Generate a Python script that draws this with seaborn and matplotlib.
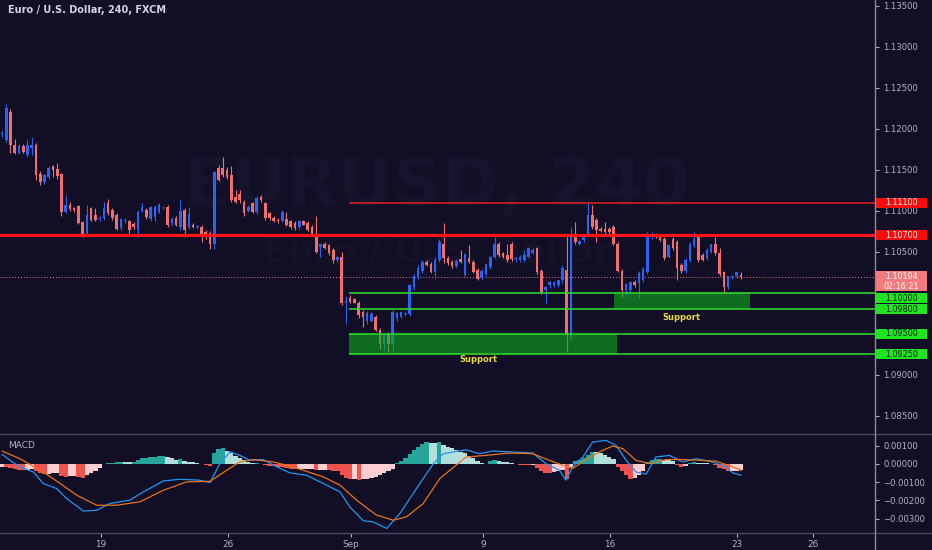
import matplotlib
matplotlib.use("Agg")
import matplotlib.pyplot as plt
import matplotlib.transforms as mtransforms
from matplotlib.lines import Line2D
from matplotlib.patches import Rectangle
from matplotlib.ticker import FuncFormatter
import numpy as np
import seaborn as sns

# ---------------------------------------------------------------------------
# EUR/USD 4h candles (bar 0 = first visible bar, mid-August 2019)
# ---------------------------------------------------------------------------
opens = [
    1.1193, 1.1186, 1.1220, 1.1180, 1.1171, 1.1179, 1.1168, 1.1176, 1.1180, 1.1145,
    1.1135, 1.1141, 1.1154, 1.1151, 1.1145, 1.1099, 1.1107, 1.1103, 1.1106, 1.1086,
    1.1073, 1.1103, 1.1095, 1.1090, 1.1091, 1.1109, 1.1101, 1.1095, 1.1079, 1.1087,
    1.1088, 1.1084, 1.1076, 1.1100, 1.1101, 1.1090, 1.1092, 1.1099, 1.1104, 1.1105,
    1.1085, 1.1091, 1.1080, 1.1101, 1.1080, 1.1083, 1.1080, 1.1080, 1.1074, 1.1073,
    1.1060, 1.1152, 1.1152, 1.1150, 1.1144, 1.1117, 1.1121, 1.1111, 1.1100, 1.1109,
    1.1098, 1.1117, 1.1109, 1.1097, 1.1091, 1.1089, 1.1088, 1.1090, 1.1087, 1.1085,
    1.1080, 1.1087, 1.1085, 1.1080, 1.1072, 1.1056, 1.1060, 1.1058, 1.1052, 1.1040,
    1.1043, 1.0987, 1.0993, 1.0992, 1.0988, 1.0977, 1.0966, 1.0966, 1.0971, 1.0955,
    1.0937, 1.0950, 1.0938, 1.0969, 1.0971, 1.0974, 1.0974, 1.1007, 1.1019, 1.1026,
    1.1038, 1.1035, 1.1025, 1.1040, 1.1060, 1.1042, 1.1038, 1.1032, 1.1041, 1.1022,
    1.1042, 1.1037, 1.1028, 1.1018, 1.1023, 1.1031, 1.1044, 1.1060, 1.1048, 1.1046,
    1.1060, 1.1041, 1.1040, 1.1040, 1.1044, 1.1049, 1.1054, 1.1027, 1.1003, 1.1009,
    1.1009, 1.1009, 1.1015, 1.1028, 1.0946, 1.1068, 1.1060, 1.1064, 1.1072, 1.1095,
    1.1089, 1.1078, 1.1078, 1.1078, 1.1080, 1.1060, 1.1027, 1.1003, 1.1003, 1.1013,
    1.1012, 1.1015, 1.1025, 1.1068, 1.1071, 1.1070, 1.1066, 1.1044, 1.1066, 1.1062,
    1.1034, 1.1026, 1.1040, 1.1058, 1.1068, 1.1046, 1.1042, 1.1050, 1.1060, 1.1049,
    1.1025, 1.1007, 1.1019, 1.1020, 1.1022,
]
highs = [
    1.1198, 1.1230, 1.1224, 1.1187, 1.1181, 1.1181, 1.1186, 1.1190, 1.1182, 1.1148,
    1.1145, 1.1155, 1.1156, 1.1158, 1.1146, 1.1119, 1.1111, 1.1105, 1.1107, 1.1088,
    1.1107, 1.1105, 1.1103, 1.1093, 1.1111, 1.1114, 1.1103, 1.1097, 1.1091, 1.1091,
    1.1089, 1.1086, 1.1101, 1.1109, 1.1103, 1.1106, 1.1107, 1.1110, 1.1106, 1.1107,
    1.1092, 1.1093, 1.1113, 1.1103, 1.1104, 1.1085, 1.1082, 1.1082, 1.1076, 1.1075,
    1.1149, 1.1156, 1.1166, 1.1153, 1.1154, 1.1125, 1.1125, 1.1113, 1.1107, 1.1111,
    1.1118, 1.1119, 1.1111, 1.1099, 1.1093, 1.1091, 1.1101, 1.1098, 1.1089, 1.1087,
    1.1089, 1.1089, 1.1087, 1.1082, 1.1094, 1.1060, 1.1062, 1.1060, 1.1054, 1.1045,
    1.1050, 1.0996, 1.0997, 1.0994, 1.0990, 1.0979, 1.0978, 1.0977, 1.0973, 1.0957,
    1.0951, 1.0952, 1.0979, 1.0976, 1.0978, 1.0977, 1.1011, 1.1023, 1.1034, 1.1040,
    1.1040, 1.1037, 1.1044, 1.1066, 1.1085, 1.1045, 1.1040, 1.1041, 1.1052, 1.1049,
    1.1058, 1.1040, 1.1030, 1.1029, 1.1036, 1.1045, 1.1068, 1.1062, 1.1050, 1.1060,
    1.1062, 1.1044, 1.1046, 1.1052, 1.1056, 1.1054, 1.1056, 1.1029, 1.1008, 1.1014,
    1.1014, 1.1016, 1.1034, 1.1070, 1.1080, 1.1086, 1.1064, 1.1069, 1.1109, 1.1107,
    1.1091, 1.1080, 1.1086, 1.1080, 1.1082, 1.1062, 1.1029, 1.1012, 1.1014, 1.1015,
    1.1026, 1.1031, 1.1074, 1.1074, 1.1073, 1.1072, 1.1068, 1.1060, 1.1068, 1.1064,
    1.1036, 1.1042, 1.1062, 1.1074, 1.1070, 1.1048, 1.1055, 1.1060, 1.1068, 1.1054,
    1.1027, 1.1021, 1.1022, 1.1026, 1.1025,
]
lows = [
    1.1190, 1.1184, 1.1170, 1.1169, 1.1169, 1.1170, 1.1166, 1.1168, 1.1137, 1.1131,
    1.1132, 1.1139, 1.1141, 1.1139, 1.1093, 1.1097, 1.1100, 1.1098, 1.1084, 1.1068,
    1.1071, 1.1087, 1.1088, 1.1088, 1.1089, 1.1095, 1.1089, 1.1076, 1.1077, 1.1085,
    1.1070, 1.1078, 1.1068, 1.1098, 1.1090, 1.1088, 1.1088, 1.1097, 1.1102, 1.1080,
    1.1083, 1.1081, 1.1076, 1.1068, 1.1078, 1.1079, 1.1078, 1.1062, 1.1066, 1.1053,
    1.1053, 1.1136, 1.1141, 1.1139, 1.1111, 1.1109, 1.1109, 1.1094, 1.1098, 1.1097,
    1.1096, 1.1111, 1.1089, 1.1089, 1.1086, 1.1085, 1.1086, 1.1081, 1.1078, 1.1077,
    1.1078, 1.1082, 1.1075, 1.1070, 1.1048, 1.1044, 1.1053, 1.1046, 1.1036, 1.1037,
    1.0985, 1.0962, 1.0987, 1.0987, 1.0969, 1.0958, 1.0962, 1.0964, 1.0953, 1.0931,
    1.0930, 1.0928, 1.0928, 1.0966, 1.0969, 1.0972, 1.0972, 1.1003, 1.1017, 1.1024,
    1.1033, 1.1024, 1.1017, 1.1038, 1.1036, 1.1034, 1.1030, 1.1030, 1.1036, 1.1020,
    1.1036, 1.1024, 1.1016, 1.1016, 1.1021, 1.1029, 1.1042, 1.1044, 1.1042, 1.1038,
    1.1039, 1.1037, 1.1038, 1.1038, 1.1042, 1.1047, 1.1023, 1.0999, 1.0987, 1.1006,
    1.1007, 1.1007, 1.1012, 1.0928, 1.0942, 1.1060, 1.1058, 1.1062, 1.1070, 1.1078,
    1.1062, 1.1074, 1.1072, 1.1072, 1.1058, 1.1025, 1.0995, 1.0995, 1.1000, 1.1007,
    1.0993, 1.1013, 1.1023, 1.1066, 1.1067, 1.1063, 1.1040, 1.1042, 1.1052, 1.1015,
    1.1024, 1.1024, 1.1038, 1.1056, 1.1038, 1.1039, 1.1040, 1.1048, 1.1046, 1.1021,
    1.0998, 1.1005, 1.1017, 1.1018, 1.1017,
]
closes = [
    1.1195, 1.1225, 1.1180, 1.1171, 1.1179, 1.1172, 1.1180, 1.1180, 1.1143, 1.1135,
    1.1143, 1.1152, 1.1150, 1.1142, 1.1099, 1.1107, 1.1102, 1.1101, 1.1085, 1.1072,
    1.1095, 1.1089, 1.1089, 1.1091, 1.1103, 1.1097, 1.1091, 1.1078, 1.1090, 1.1089,
    1.1076, 1.1080, 1.1099, 1.1105, 1.1092, 1.1104, 1.1105, 1.1107, 1.1104, 1.1083,
    1.1090, 1.1083, 1.1100, 1.1077, 1.1096, 1.1080, 1.1080, 1.1068, 1.1068, 1.1060,
    1.1147, 1.1138, 1.1144, 1.1141, 1.1113, 1.1111, 1.1113, 1.1097, 1.1105, 1.1099,
    1.1115, 1.1113, 1.1091, 1.1091, 1.1088, 1.1087, 1.1098, 1.1083, 1.1080, 1.1079,
    1.1087, 1.1083, 1.1077, 1.1072, 1.1050, 1.1060, 1.1055, 1.1048, 1.1040, 1.1043,
    1.0987, 1.0990, 1.0989, 1.0988, 1.0973, 1.0971, 1.0975, 1.0974, 1.0954, 1.0938,
    1.0949, 1.0938, 1.0977, 1.0975, 1.0977, 1.0975, 1.1009, 1.1021, 1.1030, 1.1038,
    1.1034, 1.1025, 1.1040, 1.1062, 1.1042, 1.1036, 1.1032, 1.1039, 1.1038, 1.1047,
    1.1037, 1.1025, 1.1017, 1.1027, 1.1035, 1.1044, 1.1060, 1.1046, 1.1044, 1.1040,
    1.1041, 1.1042, 1.1044, 1.1046, 1.1054, 1.1052, 1.1025, 1.1001, 1.1007, 1.1013,
    1.1013, 1.1015, 1.1030, 1.0948, 1.1068, 1.1062, 1.1063, 1.1068, 1.1095, 1.1080,
    1.1076, 1.1075, 1.1074, 1.1074, 1.1060, 1.1027, 1.1003, 1.1011, 1.1013, 1.1009,
    1.1024, 1.1029, 1.1070, 1.1071, 1.1068, 1.1064, 1.1042, 1.1058, 1.1054, 1.1030,
    1.1026, 1.1040, 1.1060, 1.1066, 1.1040, 1.1040, 1.1052, 1.1059, 1.1048, 1.1023,
    1.1007, 1.1020, 1.1021, 1.1025, 1.1019,
]

# MACD histogram, one value per bar
macd_hist = [
    -0.00016, -0.00018, -0.00022, -0.00027, -0.00031, -0.00035, -0.00033, -0.00030, -0.00040, -0.00048,
    -0.00055, -0.00053, -0.00050, -0.00048, -0.00068, -0.00072, -0.00068, -0.00066, -0.00072, -0.00076,
    -0.00060, -0.00048, -0.00036, -0.00022, 0.00002, 0.00005, 0.00006, 0.00008, 0.00010, 0.00009,
    0.00008, 0.00013, 0.00022, 0.00030, 0.00033, 0.00036, 0.00040, 0.00043, 0.00046, 0.00038,
    0.00032, 0.00020, 0.00025, 0.00015, 0.00012, 0.00008, 0.00004, 0.00001, -0.00004, -0.00010,
    0.00060, 0.00082, 0.00088, 0.00070, 0.00058, 0.00045, 0.00032, 0.00020, 0.00010, 0.00003,
    0.00005, 0.00002, -0.00005, -0.00010, -0.00013, -0.00016, -0.00018, -0.00022, -0.00026, -0.00030,
    -0.00028, -0.00027, -0.00026, -0.00025, -0.00033, -0.00032, -0.00031, -0.00034, -0.00036, -0.00040,
    -0.00060, -0.00075, -0.00082, -0.00080, -0.00086, -0.00084, -0.00082, -0.00078, -0.00070, -0.00062,
    -0.00052, -0.00040, -0.00025, 0.00005, 0.00018, 0.00035, 0.00055, 0.00075, 0.00092, 0.00108,
    0.00118, 0.00117, 0.00115, 0.00120, 0.00105, 0.00095, 0.00085, 0.00075, 0.00068, 0.00060,
    0.00045, 0.00030, 0.00015, 0.00003, 0.00001, 0.00015, 0.00020, 0.00018, 0.00012, 0.00008,
    0.00005, 0.00002, -0.00003, -0.00004, -0.00005, -0.00004, -0.00020, -0.00040, -0.00050, -0.00052,
    -0.00045, -0.00040, -0.00035, -0.00080, -0.00018, 0.00015, 0.00022, 0.00030, 0.00050, 0.00066,
    0.00064, 0.00060, 0.00050, 0.00040, 0.00025, -0.00015, -0.00040, -0.00060, -0.00080, -0.00075,
    -0.00060, -0.00040, 0.00010, 0.00020, 0.00025, 0.00028, 0.00022, 0.00020, 0.00015, -0.00003,
    -0.00015, -0.00010, 0.00004, 0.00008, 0.00005, 0.00004, 0.00003, 0.00002, -0.00005, -0.00020,
    -0.00030, -0.00040, -0.00038, -0.00036, -0.00035,
]

macd_bar = [0, 1.9, 4.2, 7.4, 9.7, 12.9, 15.2, 19.2, 22.3, 25.4, 30.1, 33.3, 38.0, 41.9, 46.6,
            49.0, 51.3, 53.7, 56.0, 58.4, 61.5, 64.7, 67.8, 71.7, 75.7, 79.6, 81.9, 85.1, 87.4,
            90.6, 93.7, 98.4, 101.6, 103.9, 109.3, 112.4, 115.6, 119.5, 125.0, 128.1, 131.3,
            132.8, 134.4, 136.8, 139.1, 142.3, 144.6, 147.0, 149.3, 151.7, 154.0, 157.2, 160.3,
            163.5, 167.4, 170.5, 172.1, 174.1]
macd_val = [0.00053, 0.00020, -0.00016, -0.00044, -0.00107, -0.00135, -0.00189, -0.00258,
            -0.00253, -0.00217, -0.00198, -0.00153, -0.00093, -0.00084, -0.00089, -0.00102,
            0.00002, 0.00066, 0.00047, 0.00020, 0.00024, -0.00016, -0.00049, -0.00062, -0.00107,
            -0.00153, -0.00235, -0.00311, -0.00317, -0.00353, -0.00271, -0.00107, 0.00002,
            0.00056, 0.00078, 0.00056, 0.00071, 0.00066, 0.00060, 0.00002, -0.00035, -0.00089,
            -0.00016, 0.00038, 0.00120, 0.00129, 0.00102, 0.00020, -0.00044, -0.00056, 0.00038,
            0.00047, 0.00011, 0.00029, 0.00011, -0.00016, -0.00049, -0.00062]
signal_bar = [0, 4.2, 9.7, 13.7, 17.6, 22.3, 27.0, 32.5, 38.0, 43.5, 49.0, 52.9, 56.0, 59.2,
              63.9, 67.0, 71.0, 75.7, 79.6, 83.5, 88.2, 92.2, 95.3, 99.2, 103.1, 109.3, 114.0,
              119.5, 125.0, 128.9, 132.1, 134.4, 137.6, 140.7, 143.8, 146.2, 149.3, 152.5,
              156.4, 160.3, 164.2, 168.2, 172.1, 174.1]
signal_val = [0.00071, 0.00029, -0.00044, -0.00107, -0.00171, -0.00226, -0.00226, -0.00207,
              -0.00144, -0.00098, -0.00095, -0.00035, 0.00011, 0.00024, 0.00011, -0.00007,
              -0.00035, -0.00071, -0.00116, -0.00198, -0.00280, -0.00308, -0.00289, -0.00217,
              -0.00080, 0.00038, 0.00047, 0.00060, 0.00056, 0.00020, -0.00007, -0.00025,
              0.00024, 0.00066, 0.00098, 0.00084, 0.00020, 0.00002, 0.00024, 0.00024, 0.00020,
              0.00015, -0.00016, -0.00035]

date_ticks = [23.3, 53.2, 82.2, 113.3, 143.2, 173.2, 191.1]
date_labels = ["19", "26", "Sep", "9", "16", "23", "26"]
# 1.10000 and 1.09500 sit under the green level tags, so they are not shown
price_ticks = [1.135, 1.130, 1.125, 1.120, 1.115, 1.110, 1.105, 1.090, 1.085]
macd_ticks = [0.001, 0.0, -0.001, -0.002, -0.003]

resistance_main = 1.1070
resistance_upper = 1.1110
support_lines = [1.1000, 1.0980, 1.0950, 1.0925]
support_zones = [(1.0925, 1.0950), (1.0980, 1.1000)]
last_price = 1.10194
countdown = "02:16:21"

# ---------------------------------------------------------------------------
# style
# ---------------------------------------------------------------------------
BG = "#110e26"
TXT = "#b2b5be"
UP = "#2c63f0"
DOWN = "#ef6e6e"
RED = "#ff1515"
GREEN = "#2fd12f"
TAG_GREEN = "#1ee61e"
LAST = "#f47a7c"
W, H = 932, 550
PLOT_W, MAIN_BOT, MACD_BOT = 875, 434, 533
XLIM = (-0.47, 205.6)
FS = 6.1

sns.set_theme(style="dark", rc={"axes.facecolor": BG, "figure.facecolor": BG})
plt.rcParams["font.family"] = ["DejaVu Sans"]

fig = plt.figure(figsize=(W / 100, H / 100), dpi=100)
ax = fig.add_axes([0, 1 - MAIN_BOT / H, PLOT_W / W, MAIN_BOT / H])
ax2 = fig.add_axes([0, 1 - MACD_BOT / H, PLOT_W / W, (MACD_BOT - MAIN_BOT) / H])
for a in (ax, ax2):
    a.set_facecolor(BG)
    a.set_xlim(*XLIM)
    for s in a.spines.values():
        s.set_visible(False)
    a.grid(False)

# --- price pane ------------------------------------------------------------
ax.set_ylim(1.08277, 1.13570)
ax.text(0.5, 0.569, "EURUSD, 240", transform=ax.transAxes, ha="center", va="center",
        fontsize=49, fontweight="bold", color="#16132c", zorder=0)
ax.text(0.5, 0.42, "Euro / U.S. Dollar", transform=ax.transAxes, ha="center",
        va="center", fontsize=26, fontweight="bold", color="#15122a", zorder=0)

o, h, l, c = (np.array(v) for v in (opens, highs, lows, closes))
idx = np.arange(len(c))
cols = np.where(c >= o, UP, DOWN)
ax.vlines(idx, l, h, colors=cols, lw=0.8, zorder=3)
body = np.maximum(np.abs(c - o), 0.00010)
ax.bar(idx, body, bottom=np.minimum(o, c), width=0.62, color=cols, lw=0, zorder=3)

zone_start, zone_mid, zone_end = 81.7, 144.5, 176.1
ax.add_patch(Rectangle((zone_start, support_zones[0][0]), zone_mid - zone_start + 0.3,
                       support_zones[0][1] - support_zones[0][0],
                       fc="#0fae1f", alpha=0.6, lw=0, zorder=4))
ax.add_patch(Rectangle((zone_mid - 0.4, support_zones[1][0]), zone_end - zone_mid + 0.4,
                       support_zones[1][1] - support_zones[1][0],
                       fc="#0fae1f", alpha=0.6, lw=0, zorder=4))
ax.hlines(support_lines, zone_start, XLIM[1], colors=GREEN, lw=1.2, zorder=5)
ax.hlines(resistance_upper, zone_start, XLIM[1], colors="#d42020", lw=1.2, zorder=5)
ax.axhline(resistance_main, color=RED, lw=2.3, zorder=5)
ax.axhline(last_price, color=LAST, lw=0.7, ls=(0, (1, 2)), zorder=2)
ax.text(112.1, 1.0918, "Support", color="#e8d84a", fontsize=6, fontweight="bold",
        ha="center", va="center", zorder=6)
ax.text(160.1, 1.0970, "Support", color="#e8d84a", fontsize=6, fontweight="bold",
        ha="center", va="center", zorder=6)

ax.set_xticks([])
ax.yaxis.tick_right()
ax.set_yticks(price_ticks)
ax.yaxis.set_major_formatter(FuncFormatter(lambda v, p: f"{v:.5f}"))
ax.tick_params(axis="y", colors=TXT, labelsize=FS, length=3, width=0.8, pad=3,
               direction="out", right=True, left=False)

# price tags on the scale
trans = mtransforms.blended_transform_factory(ax.transAxes, ax.transData)
TAG_W, TAG_H = 51 / PLOT_W, 0.00122


def tag(center, text, face, color):
    ax.add_patch(Rectangle((1.001, center - TAG_H / 2), TAG_W, TAG_H, transform=trans,
                           fc=face, lw=0, clip_on=False, zorder=10))
    ax.text(1.001 + TAG_W / 2, center, text, transform=trans, ha="center", va="center",
            fontsize=5.8, color=color, clip_on=False, zorder=11)


tag(resistance_upper, f"{resistance_upper:.5f}", "#ff0a0a", "white")
tag(resistance_main, f"{resistance_main:.5f}", "#ff0a0a", "white")
tag(last_price + 0.00004, f"{last_price:.5f}", LAST, "white")
tag(last_price - TAG_H + 0.00006, countdown, LAST, "white")
for lvl in support_lines:
    centre = lvl - 0.00066 if lvl == 1.1000 else lvl
    tag(centre, f"{lvl:.5f}", TAG_GREEN, "#0c140c")

# --- MACD pane --------------------------------------------------------------
ax2.set_ylim(-0.00378, 0.00164)
hist = np.array(macd_hist)
prev = np.concatenate([[hist[0]], hist[:-1]])
hcols = np.where(hist >= 0,
                 np.where(hist > prev, "#26a69a", "#b2dfdb"),
                 np.where(hist < prev, "#ef5350", "#ffcdd2"))
ax2.bar(np.arange(len(hist)), hist, width=1.0, color=hcols, lw=0, zorder=2)
sns.lineplot(x=macd_bar, y=macd_val, ax=ax2, color="#2196f3", lw=0.9, estimator=None,
             zorder=3)
sns.lineplot(x=signal_bar, y=signal_val, ax=ax2, color="#e8731c", lw=0.9, estimator=None,
             zorder=3)
ax2.set_xlim(*XLIM)
ax2.set_xlabel("")
ax2.set_ylabel("")
ax2.yaxis.tick_right()
ax2.set_yticks(macd_ticks)
ax2.yaxis.set_major_formatter(
    FuncFormatter(lambda v, p: f"{abs(v):.5f}" if abs(v) < 1e-9 else f"{v:.5f}".replace("-", "\u2212")))
ax2.tick_params(axis="y", colors=TXT, labelsize=FS, length=3, width=0.8, pad=3,
                direction="out", right=True, left=False)
ax2.set_xticks(date_ticks, date_labels)
ax2.tick_params(axis="x", colors=TXT, labelsize=FS + 0.3, length=3, width=0.8, pad=2,
                direction="out", bottom=True)

fig.text(8 / W, 1 - 10 / H, "Euro / U.S. Dollar, 240, FXCM", color="#d1d4dc",
         fontsize=7, fontweight="bold", ha="left", va="center")
fig.text(8 / W, 1 - 445 / H, "MACD", color=TXT, fontsize=6.5, ha="left", va="center")

# pane separators and price-scale border
for y in (MAIN_BOT, MACD_BOT):
    fig.add_artist(Line2D([0, 1], [1 - y / H, 1 - y / H], color="#4a475e", lw=1.0))
fig.add_artist(Line2D([PLOT_W / W, PLOT_W / W], [0, 1], color="#8a8d96", lw=1.0))

fig.savefig("out.png", dpi=100, facecolor=BG)
